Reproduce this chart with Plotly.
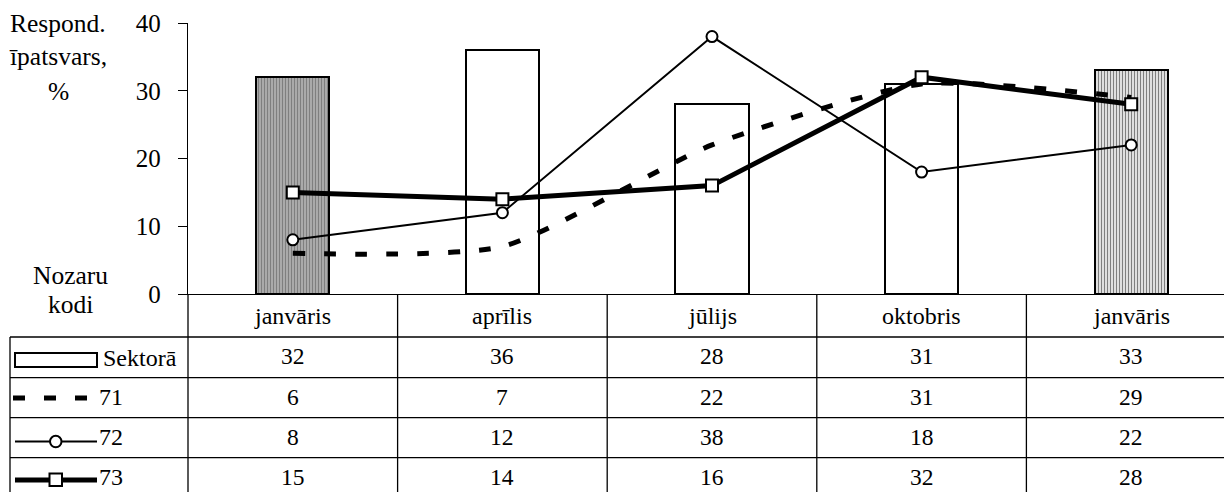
import plotly.graph_objects as go

# ---- data ----
months = ["janvāris", "aprīlis", "jūlijs", "oktobris", "janvāris"]
sector = [32, 36, 28, 31, 33]
s71 = [6, 7, 22, 31, 29]
s72 = [8, 12, 38, 18, 22]
s73 = [15, 14, 16, 32, 28]
row_labels = ["Sektorā", "71", "72", "73"]
y_ticks = [0, 10, 20, 30, 40]

# ---- layout geometry (pixels) ----
W, H = 1224, 492
L, T, B = 188, 23, 198
PW = W - L
PH = H - T - B
BOTTOM = H - B  # pixel y of axis line
COLW = 209.6
x0 = -0.5
x1 = x0 + PW / COLW

def px(x):
    return (x - L) / PW

def py(y):
    return (BOTTOM - y) / PH

FONT = "'Liberation Serif', 'Times New Roman', 'DejaVu Serif', serif"
FS = 23.5
xs = list(range(len(months)))

fig = go.Figure()
fig.add_trace(go.Bar(
    x=xs, y=sector, width=0.35,
    marker=dict(color="white", line=dict(color="black", width=2),
                pattern=dict(shape=["|", "", "", "", "|"], fgcolor="black", bgcolor="white",
                             size=3, solidity=[0.78, 0.3, 0.3, 0.3, 0.5])),
    showlegend=False))
fig.add_trace(go.Scatter(x=xs, y=s71, mode="lines",
                         line=dict(color="black", width=5, dash="12px,19px", shape="spline", smoothing=0.6),
                         showlegend=False))
fig.add_trace(go.Scatter(x=xs, y=s72, mode="lines+markers",
                         line=dict(color="black", width=2),
                         marker=dict(symbol="circle", size=11, color="white", line=dict(color="black", width=2)),
                         showlegend=False))
fig.add_trace(go.Scatter(x=xs, y=s73, mode="lines+markers",
                         line=dict(color="black", width=5),
                         marker=dict(symbol="square", size=12, color="white", line=dict(color="black", width=2)),
                         showlegend=False))

shapes = []
LINE = dict(color="black", width=1.3)
# horizontal table lines
for yy in [337, 377.7, 417.7, 457.7]:
    shapes.append(dict(type="line", xref="paper", yref="paper", x0=px(10), x1=px(W + 5),
                       y0=py(yy), y1=py(yy), line=LINE))
# left border of row-label column
shapes.append(dict(type="line", xref="paper", yref="paper", x0=px(10), x1=px(10),
                   y0=py(337), y1=py(H + 5), line=LINE))
# y axis continuation through table
shapes.append(dict(type="line", xref="paper", yref="paper", x0=0, x1=0,
                   y0=0, y1=py(H + 5), line=LINE))
# column dividers
for i in range(len(months)):
    xp = (i + 0.5 - x0) / (x1 - x0)
    shapes.append(dict(type="line", xref="paper", yref="paper", x0=xp, x1=xp,
                       y0=0, y1=py(H + 5), line=LINE))

# legend symbols in the table
shapes.append(dict(type="rect", xref="paper", yref="paper", x0=px(15), x1=px(97),
                   y0=py(353), y1=py(367), line=dict(color="black", width=2), fillcolor="white"))
shapes.append(dict(type="line", xref="paper", yref="paper", x0=px(13), x1=px(88),
                   y0=py(398), y1=py(398), line=dict(color="black", width=5, dash="12px,19px")))
shapes.append(dict(type="line", xref="paper", yref="paper", x0=px(15), x1=px(97),
                   y0=py(441.5), y1=py(441.5), line=dict(color="black", width=2)))
shapes.append(dict(type="circle", xref="paper", yref="paper", x0=px(50), x1=px(61.5),
                   y0=py(435.8), y1=py(447.3), line=dict(color="black", width=2), fillcolor="white"))
shapes.append(dict(type="line", xref="paper", yref="paper", x0=px(15), x1=px(97),
                   y0=py(480), y1=py(480), line=dict(color="black", width=5)))
shapes.append(dict(type="rect", xref="paper", yref="paper", x0=px(49.5), x1=px(62),
                   y0=py(473.5), y1=py(486), line=dict(color="black", width=2), fillcolor="white"))

ann = []
def text(x, y, s, xref="paper", xanchor="center", size=FS):
    ann.append(dict(x=x, y=y, xref=xref, yref="paper", text=s, showarrow=False,
                    xanchor=xanchor, yanchor="middle", font=dict(family=FONT, size=size, color="black")))

for s, yy in zip(["Respond.", "īpatsvars,", "%"], [24, 57, 91]):
    text(px(58), py(yy), s, size=25.5)
for s, yy in zip(["Nozaru", "kodi"], [275, 304]):
    text(px(70), py(yy), s, size=25.5)
for i, m in enumerate(months):
    text(i, py(316), m, xref="x", size=24)
rows = [sector, s71, s72, s73]
row_y = [356, 397, 437, 477]
for r, (vals, yy) in enumerate(zip(rows, row_y)):
    for i, v in enumerate(vals):
        text(i, py(yy), str(v), xref="x")
text(px(101), py(358), row_labels[0], xanchor="left", size=24)
for lab, yy in zip(row_labels[1:], [397, 437, 477]):
    text(px(97), py(yy), lab, xanchor="left", size=24)

fig.update_layout(
    width=W, height=H,
    margin=dict(l=L, r=0, t=T, b=B, pad=0),
    paper_bgcolor="white", plot_bgcolor="white",
    font=dict(family=FONT, size=FS, color="black"),
    shapes=shapes, annotations=ann,
    xaxis=dict(range=[x0, x1], showticklabels=False, ticks="", showgrid=False, zeroline=False,
               showline=True, linecolor="black", linewidth=1.3),
    yaxis=dict(range=[0, 40], tickvals=y_ticks, ticks="outside", ticklen=9, tickwidth=1.3,
               tickcolor="black", showgrid=False, zeroline=False, showline=True,
               linecolor="black", linewidth=1.3, ticklabelstandoff=12,
               tickfont=dict(family=FONT, size=25, color="black")),
    bargap=0,
)

fig.write_html("out.html", config={"displayModeBar": False},
               post_script="document.body.style.margin='0';document.body.style.padding='0';document.body.style.overflow='hidden';")
